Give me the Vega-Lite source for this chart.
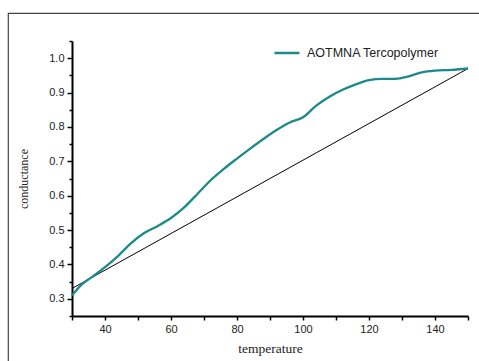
{
  "$schema": "https://vega.github.io/schema/vega-lite/v6.json",
  "autosize": "none",
  "padding": {"left": 8, "top": 13, "right": 0, "bottom": 0},
  "width": 480,
  "height": 360,
  "background": "white",
  "config": {
    "view": {"stroke": "#444", "strokeWidth": 1.2},
    "font": "Liberation Sans"
  },
  "datasets": {
    "curve": [
      {"temperature": 30, "conductance": 0.31, "series": "AOTMNA Tercopolymer"},
      {"temperature": 33, "conductance": 0.342, "series": "AOTMNA Tercopolymer"},
      {"temperature": 36, "conductance": 0.363, "series": "AOTMNA Tercopolymer"},
      {"temperature": 40, "conductance": 0.392, "series": "AOTMNA Tercopolymer"},
      {"temperature": 44, "conductance": 0.425, "series": "AOTMNA Tercopolymer"},
      {"temperature": 48, "conductance": 0.463, "series": "AOTMNA Tercopolymer"},
      {"temperature": 52, "conductance": 0.492, "series": "AOTMNA Tercopolymer"},
      {"temperature": 56, "conductance": 0.512, "series": "AOTMNA Tercopolymer"},
      {"temperature": 60, "conductance": 0.535, "series": "AOTMNA Tercopolymer"},
      {"temperature": 64, "conductance": 0.566, "series": "AOTMNA Tercopolymer"},
      {"temperature": 68, "conductance": 0.605, "series": "AOTMNA Tercopolymer"},
      {"temperature": 72, "conductance": 0.645, "series": "AOTMNA Tercopolymer"},
      {"temperature": 76, "conductance": 0.678, "series": "AOTMNA Tercopolymer"},
      {"temperature": 80, "conductance": 0.708, "series": "AOTMNA Tercopolymer"},
      {"temperature": 84, "conductance": 0.737, "series": "AOTMNA Tercopolymer"},
      {"temperature": 88, "conductance": 0.765, "series": "AOTMNA Tercopolymer"},
      {"temperature": 92, "conductance": 0.791, "series": "AOTMNA Tercopolymer"},
      {"temperature": 96, "conductance": 0.813, "series": "AOTMNA Tercopolymer"},
      {"temperature": 100, "conductance": 0.828, "series": "AOTMNA Tercopolymer"},
      {"temperature": 104, "conductance": 0.862, "series": "AOTMNA Tercopolymer"},
      {"temperature": 108, "conductance": 0.888, "series": "AOTMNA Tercopolymer"},
      {"temperature": 112, "conductance": 0.908, "series": "AOTMNA Tercopolymer"},
      {"temperature": 116, "conductance": 0.924, "series": "AOTMNA Tercopolymer"},
      {"temperature": 120, "conductance": 0.936, "series": "AOTMNA Tercopolymer"},
      {"temperature": 124, "conductance": 0.94, "series": "AOTMNA Tercopolymer"},
      {"temperature": 128, "conductance": 0.94, "series": "AOTMNA Tercopolymer"},
      {"temperature": 132, "conductance": 0.947, "series": "AOTMNA Tercopolymer"},
      {"temperature": 136, "conductance": 0.959, "series": "AOTMNA Tercopolymer"},
      {"temperature": 140, "conductance": 0.964, "series": "AOTMNA Tercopolymer"},
      {"temperature": 145, "conductance": 0.966, "series": "AOTMNA Tercopolymer"},
      {"temperature": 150, "conductance": 0.97, "series": "AOTMNA Tercopolymer"}
    ],
    "fit": [
      {"temperature": 30, "conductance": 0.33},
      {"temperature": 150, "conductance": 0.97}
    ]
  },
  "resolve": {"axis": {"x": "independent", "y": "independent"}},
  "layer": [
    {
      "data": {"name": "fit"},
      "mark": {"type": "line", "color": "black", "strokeWidth": 1},
      "encoding": {
        "x": {
          "field": "temperature",
          "type": "quantitative",
          "scale": {"domain": [30, 150], "range": [64, 460], "nice": false, "zero": false},
          "axis": {
            "orient": "bottom",
            "offset": -57,
            "title": null,
            "values": [30, 50, 70, 90, 110, 130, 150],
            "labels": false,
            "domain": false,
            "grid": false,
            "tickSize": 4,
            "tickWidth": 1.5,
            "tickColor": "black"
          }
        },
        "y": {
          "field": "conductance",
          "type": "quantitative",
          "scale": {"domain": [0.25, 1.05], "range": [303, 28], "nice": false, "zero": false},
          "axis": {
            "orient": "left",
            "offset": -64,
            "title": null,
            "values": [0.25, 0.35, 0.45, 0.55, 0.65, 0.75, 0.85, 0.95, 1.05],
            "labels": false,
            "domain": false,
            "grid": false,
            "tickSize": 3,
            "tickWidth": 1.5,
            "tickColor": "black"
          }
        }
      }
    },
    {
      "data": {"name": "curve"},
      "mark": {"type": "line", "strokeWidth": 2.3, "interpolate": "monotone"},
      "encoding": {
        "x": {
          "field": "temperature",
          "type": "quantitative",
          "scale": {"domain": [30, 150], "range": [64, 460], "nice": false, "zero": false},
          "axis": {
            "orient": "bottom",
            "offset": -57,
            "title": "temperature",
            "titleFont": "Liberation Serif",
            "titleFontSize": 13.5,
            "titleFontWeight": "normal",
            "titleColor": "#222",
            "titlePadding": 7,
            "values": [40, 60, 80, 100, 120, 140],
            "labelFont": "Liberation Sans",
            "labelFontSize": 11,
            "labelColor": "#222",
            "labelPadding": 3,
            "tickSize": 4,
            "tickWidth": 1.5,
            "tickColor": "black",
            "domainColor": "black",
            "domainWidth": 2,
            "grid": false
          }
        },
        "y": {
          "field": "conductance",
          "type": "quantitative",
          "scale": {"domain": [0.25, 1.05], "range": [303, 28], "nice": false, "zero": false},
          "axis": {
            "orient": "left",
            "offset": -64,
            "title": "conductance",
            "titleFont": "Liberation Serif",
            "titleFontSize": 12,
            "titleFontWeight": "normal",
            "titleColor": "#222",
            "titlePadding": 18,
            "values": [0.3, 0.4, 0.5, 0.6, 0.7, 0.8, 0.9, 1.0],
            "format": ".1f",
            "labelFont": "Liberation Sans",
            "labelFontSize": 11,
            "labelColor": "#222",
            "labelPadding": 3,
            "tickSize": 5,
            "tickWidth": 1.5,
            "tickColor": "black",
            "domainColor": "black",
            "domainWidth": 2,
            "grid": false
          }
        },
        "color": {
          "field": "series",
          "type": "nominal",
          "scale": {"range": ["#1b8a88"]},
          "legend": {
            "title": null,
            "orient": "none",
            "legendX": 265,
            "legendY": 26,
            "symbolType": "stroke",
            "symbolSize": 625,
            "symbolStrokeWidth": 2.5,
            "labelFont": "Liberation Sans",
            "labelFontSize": 12.5,
            "labelColor": "#222",
            "labelOffset": 6
          }
        }
      }
    }
  ]
}
